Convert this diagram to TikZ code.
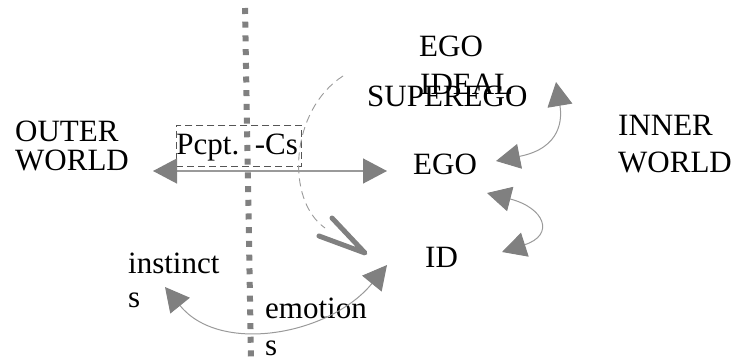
\documentclass[tikz,border=0pt]{standalone}
\usepackage{fontspec}
\setmainfont{Liberation Serif}
\usetikzlibrary{arrows.meta}
\definecolor{tipgray}{HTML}{808080}
\definecolor{linegray}{HTML}{9A9A9A}
\definecolor{boxgray}{HTML}{555555}
\tikzset{
  lbl/.style={anchor=base west, inner sep=0pt, font=\fontsize{31}{31}\selectfont},
  conn/.style={draw=linegray, line width=1pt, fill=none,
    {Triangle[length=24pt,width=25pt,color=tipgray,fill=tipgray]}-{Triangle[length=24pt,width=25pt,color=tipgray,fill=tipgray]}},
  hconn/.style={conn, line width=1.4pt},
  divider/.style={draw=tipgray, line width=6pt, dash pattern=on 6pt off 7.7pt},
  arcdash/.style={draw=linegray, line width=0.9pt, dash pattern=on 8pt off 5pt},
  vmark/.style={draw=tipgray, line width=5pt, line cap=round, line join=round},
  pbox/.style={anchor=base west, draw=boxgray, line width=0.9pt, dash pattern=on 7pt off 4pt,
    inner sep=0pt, text height=30pt, text depth=11pt, text width=125pt, align=left,
    font=\fontsize{31}{31}\selectfont}
}
\begin{document}
\begin{tikzpicture}[x=1pt,y=-1pt]
\useasboundingbox (0,0) rectangle (735,358);
% divider
\coordinate (dtop) at (245,8);
\coordinate (dbot) at (251,358);
\draw[divider] (dtop) -- (dbot);
% texts
\node[lbl] (outer1) at (15,142) {OUTER};
\node[lbl] (outer2) at (15,171) {WORLD};
\node[lbl] (inner1) at (618,136) {INNER};
\node[lbl] (inner2) at (618,172) {WORLD};
\node[lbl] (egoi1) at (419,57) {EGO};
\node[lbl] (egoi2) at (420,95) {IDEAL};
\node[lbl] (superego) at (367,107) {SUPEREGO};
\node[lbl] (ego) at (413,175) {EGO};
\node[lbl] (id) at (425,267) {ID};
\node[lbl] (inst1) at (128,273) {instinct};
\node[lbl] (inst2) at (128,307) {s};
\node[lbl] (emo1) at (265,318) {emotion};
\node[lbl] (emo2) at (265,355) {s};
\node[pbox] (pcpt) at (176,155) {Pcpt. -Cs};
% horizontal double arrow
\coordinate (hl) at (153,171);
\coordinate (hr) at (387,171);
\draw[hconn] (hl) -- (hr);
% dashed arc
\coordinate (atop) at (343,76);
\coordinate (abot) at (325,228);
\draw[arcdash] (atop) .. controls (290,110) and (285,200) .. (abot);
% V mark
\coordinate (v1) at (332,218);
\coordinate (vtip) at (365,253);
\coordinate (v2) at (319,236);
\draw[vmark] (v1) -- (vtip) -- (v2);
% superego - ego
\coordinate (seL) at (496,161);
\coordinate (seT) at (556,82);
\draw[conn] (seL) .. controls (562,148) and (562,118) .. (seT);
% ego - id
\coordinate (eiT) at (487,193);
\coordinate (eiB) at (502,252);
\draw[conn] (eiT) .. controls (545,208) and (555,235) .. (eiB);
% instincts - emotions
\coordinate (ieL) at (165,287);
\coordinate (ieR) at (387,265);
\draw[conn] (ieL) .. controls (220,355) and (330,335) .. (ieR);
\end{tikzpicture}
\end{document}
